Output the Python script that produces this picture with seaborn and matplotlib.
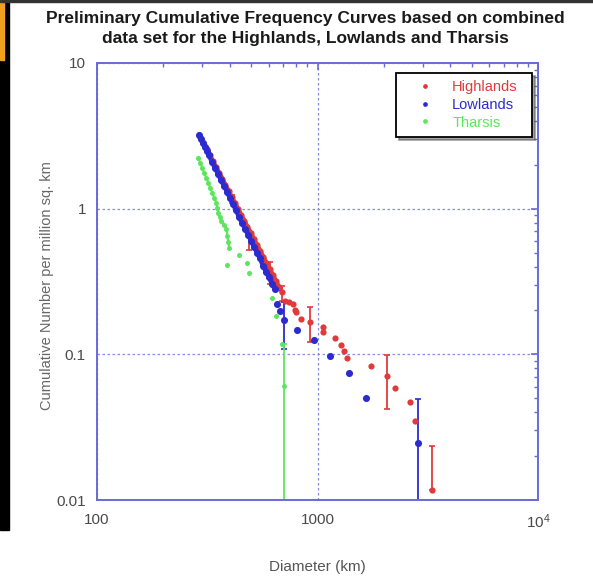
import matplotlib
matplotlib.use("Agg")
import matplotlib.pyplot as plt
import seaborn as sns
import pandas as pd
from matplotlib.lines import Line2D
from matplotlib.patches import Rectangle
from matplotlib.ticker import FixedLocator, FixedFormatter, LogLocator, NullFormatter

sns.set_style("white")
plt.rcParams['font.family'] = ['Liberation Sans', 'DejaVu Sans']

# ---------------- data ----------------
highlands_d = [294, 304, 314, 324, 335, 346, 358, 370, 382, 395, 408, 422, 436, 450, 466,
               481, 498, 514, 531, 549, 567, 586, 606, 626, 647, 668, 691,
               715, 746, 778, 794, 803, 846, 920, 1054, 1054, 1195, 1272, 1313, 1355,
               1742, 2059, 2239, 2618, 2760, 3297]
highlands_n = [3.11, 2.83, 2.58, 2.34, 2.13, 1.94, 1.77, 1.61, 1.46, 1.33, 1.21, 1.10, 1.00,
               0.910, 0.828, 0.753, 0.685, 0.623, 0.567, 0.516, 0.469, 0.427, 0.388, 0.353,
               0.321, 0.292, 0.266,
               0.231, 0.227, 0.220, 0.203, 0.194, 0.174, 0.167, 0.153, 0.142, 0.129, 0.115,
               0.105, 0.095, 0.083, 0.071, 0.0585, 0.047, 0.035, 0.0118]
highlands_err_d = [408, 491, 606, 691, 920, 2059, 3297]
highlands_err_n = [1.21, 0.60, 0.37, 0.266, 0.167, 0.0707, 0.0118]
highlands_err_lo = [1.09, 0.52, 0.305, 0.231, 0.122, 0.042, 0.0118]
highlands_err_hi = [1.25, 0.685, 0.433, 0.296, 0.211, 0.0985, 0.0234]

lowlands_d = [291, 297, 303, 310, 316, 323, 333, 344, 355, 366, 378, 390, 402, 415, 428,
              442, 456, 471, 486, 501, 517, 534, 551, 568, 586, 605, 624, 644,
              658, 679, 708, 811, 969, 1134, 1383, 1652, 2848]
lowlands_n = [3.21, 3.02, 2.83, 2.66, 2.50, 2.34, 2.10, 1.91, 1.74, 1.58, 1.44, 1.31, 1.19,
              1.08, 0.984, 0.882, 0.802, 0.729, 0.664, 0.604, 0.549, 0.500, 0.455, 0.407,
              0.370, 0.337, 0.306, 0.279,
              0.220, 0.197, 0.171, 0.146, 0.125, 0.097, 0.074, 0.050, 0.0246]
lowlands_err_d = [708, 2848]
lowlands_err_n = [0.171, 0.0246]
lowlands_err_lo = [0.108, 0.008]
lowlands_err_hi = [0.227, 0.049]

tharsis_d = [288, 294, 300, 306, 313, 320, 326, 333, 340, 348, 351, 355, 362, 366, 378, 386,
             390, 394, 398, 390, 442, 481, 491, 624, 651, 693, 708]
tharsis_n = [2.235, 2.066, 1.909, 1.765, 1.631, 1.507, 1.393, 1.287, 1.189, 1.099, 1.016,
             0.939, 0.882, 0.828, 0.776, 0.729, 0.653, 0.594, 0.541, 0.413, 0.484, 0.427,
             0.364, 0.242, 0.182, 0.117, 0.0604]
tharsis_err_d = [708]
tharsis_err_n = [0.0604]
tharsis_err_lo = [0.008]
tharsis_err_hi = [0.117]

series_names = ["Highlands", "Lowlands", "Tharsis"]
series_colors = ["#e03a3a", "#2b2bd0", "#5de65d"]

x_ticks = [100, 1000, 10000]
x_tick_labels = ["100", "1000", r"$\mathregular{10^4}$"]
y_ticks = [0.01, 0.1, 1, 10]
y_tick_labels = ["0.01", "0.1", "1", "10"]

title_lines = ["Preliminary Cumulative Frequency Curves based on combined",
               "data set for the Highlands, Lowlands and Tharsis"]
x_label = "Diameter (km)"
y_label = "Cumulative Number per million sq. km"

# ---------------- figure ----------------
W, H = 593, 584
fig = plt.figure(figsize=(W / 100, H / 100), dpi=100)
AX_L, AX_R, AX_T, AX_B = 97, 538, 63, 500
ax = fig.add_axes([AX_L / W, 1 - AX_B / H, (AX_R - AX_L) / W, (AX_B - AX_T) / H])
AW, AH = AX_R - AX_L, AX_B - AX_T

df = pd.concat([
    pd.DataFrame({"D": highlands_d, "N": highlands_n, "set": "Highlands"}),
    pd.DataFrame({"D": lowlands_d, "N": lowlands_n, "set": "Lowlands"}),
    pd.DataFrame({"D": tharsis_d, "N": tharsis_n, "set": "Tharsis"}),
], ignore_index=True)

ax.set_xscale("log")
ax.set_yscale("log")

errs = [
    (highlands_err_d, highlands_err_n, highlands_err_lo, highlands_err_hi),
    (lowlands_err_d, lowlands_err_n, lowlands_err_lo, lowlands_err_hi),
    (tharsis_err_d, tharsis_err_n, tharsis_err_lo, tharsis_err_hi),
]
sizes = {"Highlands": 20, "Lowlands": 26, "Tharsis": 13}
# the densely packed upper part of each curve merges into a band in the original
dense_count = {"Highlands": 27, "Lowlands": 28, "Tharsis": 19}
band_width = {"Highlands": 3.2, "Lowlands": 3.8, "Tharsis": 1.6}
for name, color, (ed, en, elo, ehi) in zip(series_names, series_colors, errs):
    sub = df[df["set"] == name]
    dense = sub.iloc[:dense_count[name]]
    sns.lineplot(data=dense, x="D", y="N", color=color, lw=band_width[name], sort=False,
                 estimator=None, ax=ax, zorder=2.8, legend=False)
    sns.scatterplot(data=sub, x="D", y="N", color=color, s=sizes[name], linewidth=0,
                    ax=ax, zorder=3, legend=False)
    lo = [n - l for n, l in zip(en, elo)]
    hi = [h - n for n, h in zip(en, ehi)]
    _, caps, bars = ax.errorbar(ed, en, yerr=[lo, hi], fmt="none", ecolor=color,
                                elinewidth=1.3, capsize=2.2, capthick=1.2, zorder=2.5)
    for c in caps:
        c.set_color("#7a7a7a")

ax.set_xlim(100, 10000)
ax.set_ylim(0.01, 10)

spine_col = "#6a6ad8"
for sp in ax.spines.values():
    sp.set_color(spine_col)
    sp.set_linewidth(1.4)

ax.xaxis.set_major_locator(FixedLocator(x_ticks))
ax.xaxis.set_major_formatter(FixedFormatter(x_tick_labels))
ax.yaxis.set_major_locator(FixedLocator(y_ticks))
ax.yaxis.set_major_formatter(FixedFormatter(y_tick_labels))
ax.xaxis.set_minor_locator(LogLocator(base=10, subs=range(2, 10)))
ax.yaxis.set_minor_locator(LogLocator(base=10, subs=range(2, 10)))
ax.xaxis.set_minor_formatter(NullFormatter())
ax.yaxis.set_minor_formatter(NullFormatter())
ax.tick_params(which="both", direction="in", top=True, right=True, color=spine_col,
               labelcolor="#4a4a4a", labelsize=11)
ax.tick_params(axis="x", which="major", pad=9)
ax.tick_params(axis="y", which="major", pad=8)
ax.tick_params(which="major", length=5, width=1.2)
ax.tick_params(which="minor", length=3, width=1.0)

ax.grid(True, which="major", color="#8a8ae6", linestyle=(0, (2, 2)), linewidth=0.9)
ax.set_axisbelow(True)

ax.set_xlabel(x_label, color="#555555", fontsize=11)
ax.set_ylabel(y_label, color="#666666", fontsize=10.5)
ax.xaxis.set_label_coords(0.5, (AX_B - 560) / AH)
ax.yaxis.set_label_coords((54 - AX_L) / AW, 0.49)

handles = [Line2D([], [], marker="o", linestyle="none", markersize=3.4, color=c,
                  markeredgewidth=0) for c in series_colors]
leg = ax.legend(handles, series_names, loc="upper left",
                bbox_to_anchor=((396 - AX_L) / AW, (AX_B - 73) / AH, (532 - 396) / AW, 0),
                mode="expand", borderaxespad=0, fontsize=10.5, labelcolor=series_colors,
                frameon=True, fancybox=False, shadow=True, handletextpad=0.35,
                borderpad=0.5, labelspacing=0.25, handlelength=3.0)
leg.get_frame().set_edgecolor("black")
leg.get_frame().set_linewidth(1.3)
leg.set_zorder(5)

fig.text(305 / W, 1 - 18 / H, title_lines[0], ha="center", va="center",
         fontsize=12.5, fontweight="bold", color="#1a1a1a")
fig.text(305 / W, 1 - 38 / H, title_lines[1], ha="center", va="center",
         fontsize=12.5, fontweight="bold", color="#1a1a1a")

# screenshot border artefacts
fig.add_artist(Rectangle((0, 1 - 530 / H), 9 / W, 530 / H, transform=fig.transFigure,
                         color="black", zorder=0))
fig.add_artist(Rectangle((0, 1 - 60 / H), 4 / W, 60 / H, transform=fig.transFigure,
                         color="#f0a020", zorder=1))
fig.add_artist(Rectangle((0, 1 - 2 / H), 1, 2 / H, transform=fig.transFigure,
                         color="#333333", zorder=1))

fig.savefig("out.png", dpi=100)
